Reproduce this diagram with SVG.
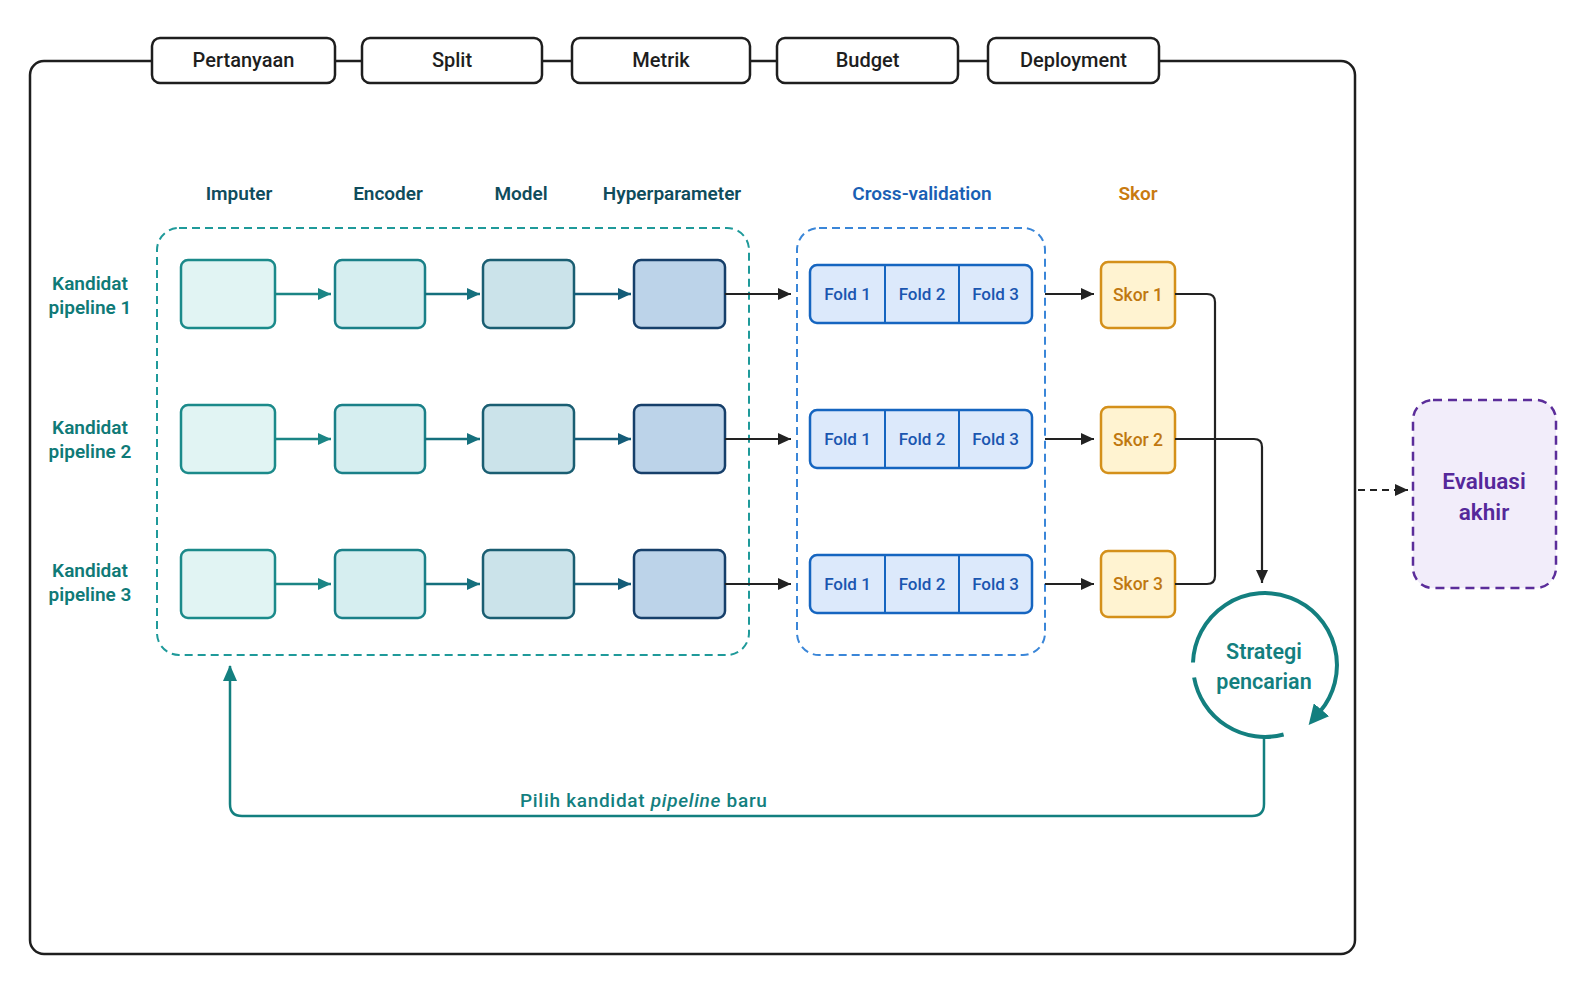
<svg xmlns="http://www.w3.org/2000/svg" width="1586" height="992" viewBox="0 0 1586 992">
<style>
text{font-family:Roboto,"Open Sans","Liberation Sans",sans-serif;font-weight:500}
.top{fill:#fff;stroke:#1e1e1e;stroke-width:2.5}
.toptxt{font-size:20px;fill:#1e1e1e;text-anchor:middle}
.hdr{font-size:19px;fill:#0f4c5c;text-anchor:middle;font-weight:600}
.rowl{font-size:19px;fill:#0f7a77;text-anchor:middle;font-weight:600}
.imp{fill:#e1f4f3;stroke:#1b8a8a;stroke-width:2.5}
.enc{fill:#d6eef0;stroke:#1a8088;stroke-width:2.5}
.mod{fill:#cbe3ea;stroke:#1a5e72;stroke-width:2.5}
.hyp{fill:#bcd3e9;stroke:#163f6a;stroke-width:2.5}
.fold{fill:#dce9fb;stroke:#1565c0;stroke-width:2.5}
.foldl{stroke:#1565c0;stroke-width:2}
.foldt{font-size:17px;fill:#1a56b0;text-anchor:middle}
.skor{fill:#fff3d1;stroke:#d4901a;stroke-width:2.5}
.skort{font-size:17.5px;fill:#c07810;text-anchor:middle}
.blk{fill:none;stroke:#222;stroke-width:2.2}
.teal{fill:none;stroke:#137f7f;stroke-width:2.5}
</style>
<defs>
<marker id="ab" markerUnits="userSpaceOnUse" markerWidth="13" markerHeight="12" refX="13" refY="6" orient="auto"><path d="M0,0 L13,6 L0,12 z" fill="#222"/></marker>
<marker id="at1" markerUnits="userSpaceOnUse" markerWidth="13" markerHeight="12" refX="13" refY="6" orient="auto"><path d="M0,0 L13,6 L0,12 z" fill="#1b8585"/></marker>
<marker id="at2" markerUnits="userSpaceOnUse" markerWidth="13" markerHeight="12" refX="13" refY="6" orient="auto"><path d="M0,0 L13,6 L0,12 z" fill="#15707d"/></marker>
<marker id="at3" markerUnits="userSpaceOnUse" markerWidth="13" markerHeight="12" refX="13" refY="6" orient="auto"><path d="M0,0 L13,6 L0,12 z" fill="#145c78"/></marker>
<marker id="atl" markerUnits="userSpaceOnUse" markerWidth="16" markerHeight="14" refX="15" refY="7" orient="auto"><path d="M0,0 L16,7 L0,14 z" fill="#137f7f"/></marker>
<marker id="atc" markerUnits="userSpaceOnUse" markerWidth="20" markerHeight="20" refX="2" refY="10" orient="auto"><path d="M0,0 L20,10 L0,20 z" fill="#137f7f"/></marker>
</defs>
<rect width="1586" height="992" fill="#ffffff"/>

<g id="frame"><rect x="30" y="61" width="1325" height="893" rx="14" fill="none" stroke="#1e1e1e" stroke-width="2.5"/></g>

<g id="constraints">
<g id="pertanyaan"><rect class="top" x="152" y="38" width="183" height="45" rx="8"/><text class="toptxt" x="243.5" y="67">Pertanyaan</text></g>
<g id="split"><rect class="top" x="362" y="38" width="180" height="45" rx="8"/><text class="toptxt" x="452" y="67">Split</text></g>
<g id="metrik"><rect class="top" x="572" y="38" width="178" height="45" rx="8"/><text class="toptxt" x="661" y="67">Metrik</text></g>
<g id="budget"><rect class="top" x="777" y="38" width="181" height="45" rx="8"/><text class="toptxt" x="867.5" y="67">Budget</text></g>
<g id="deployment"><rect class="top" x="988" y="38" width="171" height="45" rx="8"/><text class="toptxt" x="1073.5" y="67">Deployment</text></g>
</g>

<g id="headers">
<text class="hdr" x="239" y="200">Imputer</text>
<text class="hdr" x="388" y="200">Encoder</text>
<text class="hdr" x="521" y="200">Model</text>
<text class="hdr" x="672" y="200">Hyperparameter</text>
<text class="hdr" x="922" y="200" style="fill:#1a5fb4">Cross-validation</text>
<text class="hdr" x="1138" y="200" style="fill:#c97a10">Skor</text>
</g>

<g id="groups">
<rect id="pipeline-group" x="157" y="228" width="592" height="427" rx="22" fill="none" stroke="#1f9a9a" stroke-width="2" stroke-dasharray="8 5"/>
<rect id="cv-group" x="797" y="228" width="248" height="427" rx="22" fill="none" stroke="#3a86d8" stroke-width="2" stroke-dasharray="8 5"/>
</g>

<g id="row-labels">
<text class="rowl" x="90" y="290">Kandidat</text><text class="rowl" x="90" y="314">pipeline 1</text>
<text class="rowl" x="90" y="434">Kandidat</text><text class="rowl" x="90" y="458">pipeline 2</text>
<text class="rowl" x="90" y="577">Kandidat</text><text class="rowl" x="90" y="601">pipeline 3</text>
</g>

<g id="row1">
<rect id="imp1" class="imp" x="181" y="260" width="94" height="68" rx="7"/>
<rect id="enc1" class="enc" x="335" y="260" width="90" height="68" rx="7"/>
<rect id="mod1" class="mod" x="483" y="260" width="91" height="68" rx="7"/>
<rect id="hyp1" class="hyp" x="634" y="260" width="91" height="68" rx="7"/>
<g id="fold-row1"><rect class="fold" x="810" y="265" width="222" height="58" rx="7"/><line class="foldl" x1="885" y1="265" x2="885" y2="323"/><line class="foldl" x1="959" y1="265" x2="959" y2="323"/>
<text class="foldt" x="847.5" y="300">Fold 1</text><text class="foldt" x="922" y="300">Fold 2</text><text class="foldt" x="995.5" y="300">Fold 3</text></g>
<g id="skor1"><rect class="skor" x="1101" y="262" width="74" height="66" rx="7"/><text class="skort" x="1138" y="301">Skor 1</text></g>
</g>

<g id="row2">
<rect id="imp2" class="imp" x="181" y="405" width="94" height="68" rx="7"/>
<rect id="enc2" class="enc" x="335" y="405" width="90" height="68" rx="7"/>
<rect id="mod2" class="mod" x="483" y="405" width="91" height="68" rx="7"/>
<rect id="hyp2" class="hyp" x="634" y="405" width="91" height="68" rx="7"/>
<g id="fold-row2"><rect class="fold" x="810" y="410" width="222" height="58" rx="7"/><line class="foldl" x1="885" y1="410" x2="885" y2="468"/><line class="foldl" x1="959" y1="410" x2="959" y2="468"/>
<text class="foldt" x="847.5" y="445">Fold 1</text><text class="foldt" x="922" y="445">Fold 2</text><text class="foldt" x="995.5" y="445">Fold 3</text></g>
<g id="skor2"><rect class="skor" x="1101" y="407" width="74" height="66" rx="7"/><text class="skort" x="1138" y="446">Skor 2</text></g>
</g>

<g id="row3">
<rect id="imp3" class="imp" x="181" y="550" width="94" height="68" rx="7"/>
<rect id="enc3" class="enc" x="335" y="550" width="90" height="68" rx="7"/>
<rect id="mod3" class="mod" x="483" y="550" width="91" height="68" rx="7"/>
<rect id="hyp3" class="hyp" x="634" y="550" width="91" height="68" rx="7"/>
<g id="fold-row3"><rect class="fold" x="810" y="555" width="222" height="58" rx="7"/><line class="foldl" x1="885" y1="555" x2="885" y2="613"/><line class="foldl" x1="959" y1="555" x2="959" y2="613"/>
<text class="foldt" x="847.5" y="590">Fold 1</text><text class="foldt" x="922" y="590">Fold 2</text><text class="foldt" x="995.5" y="590">Fold 3</text></g>
<g id="skor3"><rect class="skor" x="1101" y="551" width="74" height="66" rx="7"/><text class="skort" x="1138" y="590">Skor 3</text></g>
</g>

<g id="strategi">
<path d="M1283.6 734.5 A72 72 0 0 1 1194.1 677.5" fill="none" stroke="#137f7f" stroke-width="4"/>
<path d="M1193 662.5 A72 72 0 1 1 1320.2 711.3" fill="none" stroke="#137f7f" stroke-width="4" marker-end="url(#atc)"/>
<text x="1264" y="659" style="font-size:21.5px;fill:#137f7f;text-anchor:middle;font-weight:600">Strategi</text>
<text x="1264" y="689" style="font-size:21.5px;fill:#137f7f;text-anchor:middle;font-weight:600">pencarian</text>
</g>

<g id="evaluasi">
<rect x="1413" y="400" width="143" height="188" rx="20" fill="#f2edfa" stroke="#5b2d9a" stroke-width="2.5" stroke-dasharray="9 6"/>
<text x="1484" y="489" style="font-size:22.5px;fill:#55289a;text-anchor:middle;font-weight:600">Evaluasi</text>
<text x="1484" y="520" style="font-size:22.5px;fill:#55289a;text-anchor:middle;font-weight:600">akhir</text>
</g>

<g id="connectors">
<line x1="275" y1="294" x2="331" y2="294" stroke="#1b8585" stroke-width="2.5" marker-end="url(#at1)"/>
<line x1="425" y1="294" x2="480" y2="294" stroke="#15707d" stroke-width="2.5" marker-end="url(#at2)"/>
<line x1="574" y1="294" x2="631" y2="294" stroke="#145c78" stroke-width="2.5" marker-end="url(#at3)"/>
<line x1="275" y1="439" x2="331" y2="439" stroke="#1b8585" stroke-width="2.5" marker-end="url(#at1)"/>
<line x1="425" y1="439" x2="480" y2="439" stroke="#15707d" stroke-width="2.5" marker-end="url(#at2)"/>
<line x1="574" y1="439" x2="631" y2="439" stroke="#145c78" stroke-width="2.5" marker-end="url(#at3)"/>
<line x1="275" y1="584" x2="331" y2="584" stroke="#1b8585" stroke-width="2.5" marker-end="url(#at1)"/>
<line x1="425" y1="584" x2="480" y2="584" stroke="#15707d" stroke-width="2.5" marker-end="url(#at2)"/>
<line x1="574" y1="584" x2="631" y2="584" stroke="#145c78" stroke-width="2.5" marker-end="url(#at3)"/>
<line class="blk" x1="725" y1="294" x2="791" y2="294" marker-end="url(#ab)"/>
<line class="blk" x1="725" y1="439" x2="791" y2="439" marker-end="url(#ab)"/>
<line class="blk" x1="725" y1="584" x2="791" y2="584" marker-end="url(#ab)"/>
<line class="blk" x1="1045" y1="294" x2="1094" y2="294" marker-end="url(#ab)"/>
<line class="blk" x1="1045" y1="439" x2="1094" y2="439" marker-end="url(#ab)"/>
<line class="blk" x1="1045" y1="584" x2="1094" y2="584" marker-end="url(#ab)"/>
<path class="blk" d="M1175 294 H1207 Q1215 294 1215 302 V576 Q1215 584 1207 584 H1175"/>
<path class="blk" d="M1175 439 H1254 Q1262 439 1262 447 V583" marker-end="url(#ab)"/>
<path class="teal" d="M1264 737 V804 Q1264 816 1252 816 H242 Q230 816 230 804 V666" marker-end="url(#atl)"/>
<text x="520" y="807" style="font-size:19px;fill:#137f7f;letter-spacing:0.7px">Pilih kandidat <tspan font-style="italic">pipeline</tspan> baru</text>
<line x1="1358" y1="490" x2="1408" y2="490" stroke="#222" stroke-width="2.2" stroke-dasharray="7 5" marker-end="url(#ab)"/>
</g>
</svg>
